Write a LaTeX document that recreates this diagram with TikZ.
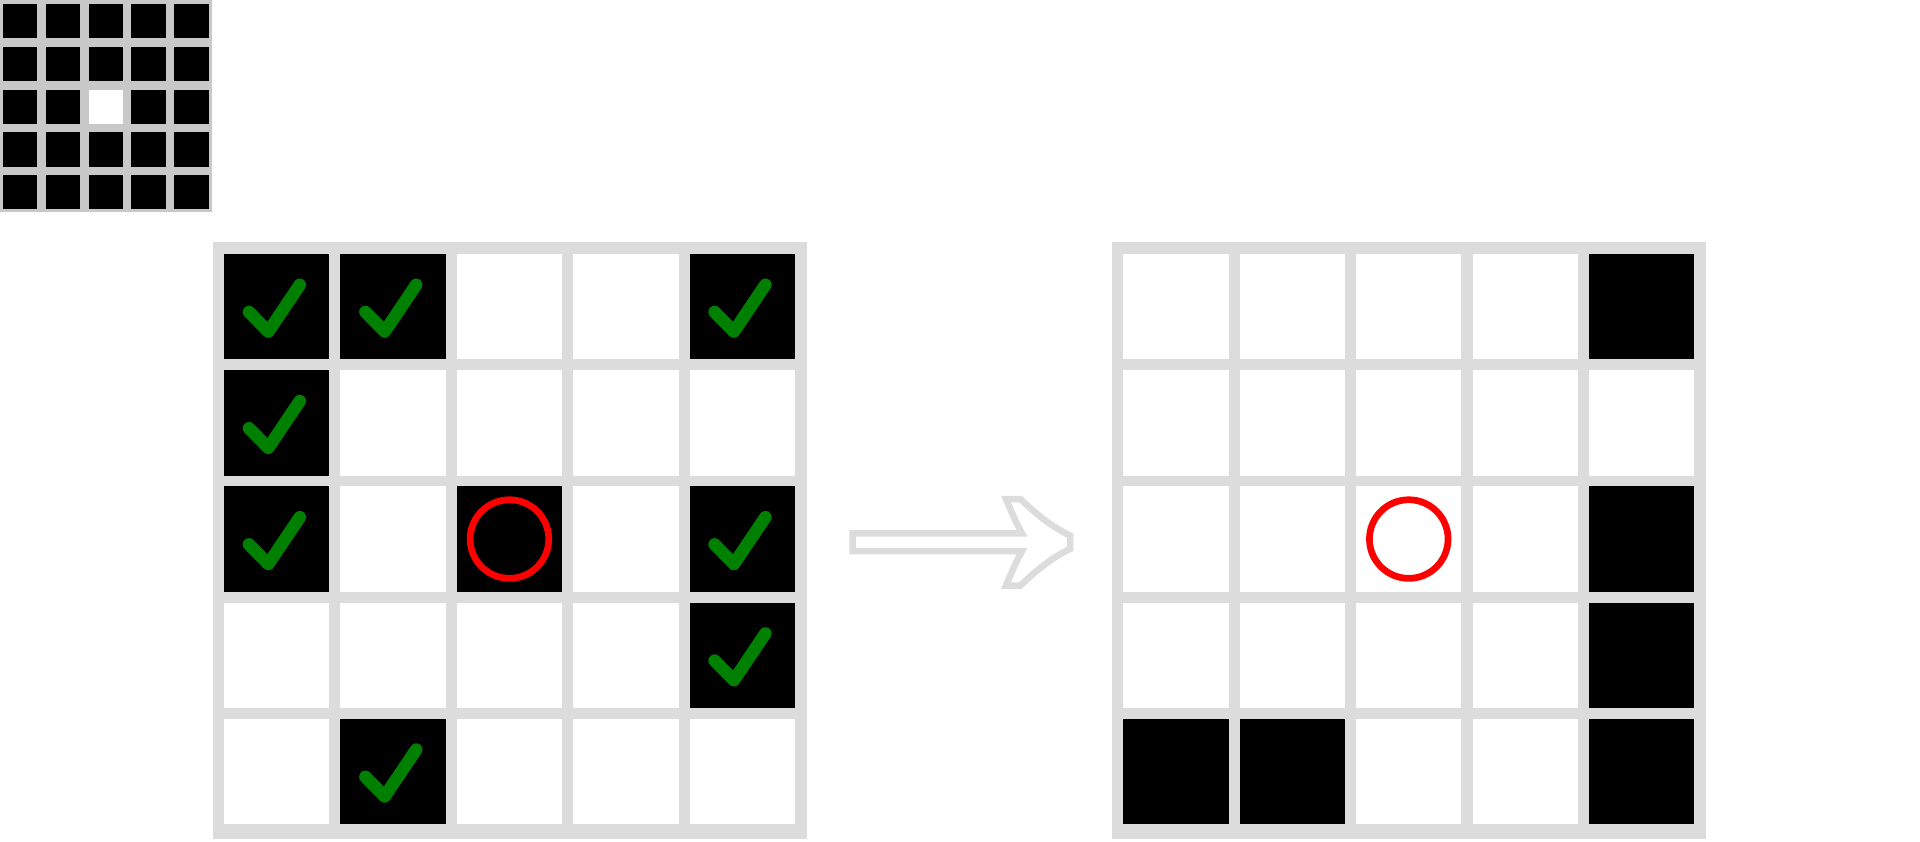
\documentclass[tikz,border=0pt]{standalone}
\begin{document}
\begin{tikzpicture}[x=1pt,y=-1pt]
\definecolor{gridgray}{RGB}{220,220,220}
\definecolor{smallgray}{RGB}{200,200,200}
\definecolor{checkgreen}{RGB}{0,128,0}
\definecolor{ringred}{RGB}{255,0,0}
\tikzset{
  cellblack/.style={fill=black},
  cellwhite/.style={fill=white},
  checkmark/.style={draw=checkgreen, line width=12.5pt, line cap=round, line join=round},
  ring/.style={draw=ringred, line width=6.7pt},
  arrowshape/.style={draw=gridgray, fill=white, line width=6.5pt, line join=miter},
  gridframe/.style={fill=gridgray},
  smallframe/.style={fill=smallgray}
}
\useasboundingbox (0,0) rectangle (1920,842);
\fill[white] (0,0) rectangle (1920,842);

% small grid
\fill[smallframe] (0,0) rectangle (212.3,212.3);
\foreach \r in {0,...,4} {
  \foreach \c in {0,...,4} {
    \fill[cellblack] ({2.7+42.9*\c},{4+42.8*\r}) rectangle +(34.2,34.2);
  }
}
\fill[cellwhite] ({2.7+42.9*2},{4+42.8*2}) rectangle +(34.2,34.2);

% left grid
\fill[gridframe] (212.7,242) rectangle (806.7,838.7);
\foreach \r in {0,...,4} {
  \foreach \c in {0,...,4} {
    \fill[cellwhite] ({224+116.4*\c},{254+116.2*\r}) rectangle +(105.3,105.3);
  }
}
\foreach \r/\c in {0/0,0/1,0/4,1/0,2/0,2/2,2/4,3/4,4/1} {
  \fill[cellblack] ({224+116.4*\c},{254+116.2*\r}) rectangle +(105.3,105.3);
}
\foreach \r/\c in {0/0,0/1,0/4,1/0,2/0,2/4,3/4,4/1} {
  \draw[checkmark] ({224+116.4*\c+25},{254+116.2*\r+58}) -- ++(19.3,19.6) -- ++(31.5,-46.8);
}
\draw[ring] ({224+116.4*2+52.65},{254+116.2*2+52.65}) circle[radius=39.3];

% arrow
\draw[arrowshape] (852.6,533.3) -- (1022,533.3)
  .. controls (1015,520) .. (1006,499) -- (1020.5,499)
  .. controls (1036,514) and (1052,527) .. (1070,535.5) -- (1070,549)
  .. controls (1052,557.5) and (1036,570.5) .. (1020.5,585.5) -- (1006,585.5)
  .. controls (1015,564.5) .. (1022,551.2) -- (852.6,551.2) -- cycle;

% right grid
\begin{scope}[xshift=899.3pt]
\fill[gridframe] (212.7,242) rectangle (806.7,838.7);
\foreach \r in {0,...,4} {
  \foreach \c in {0,...,4} {
    \fill[cellwhite] ({224+116.4*\c},{254+116.2*\r}) rectangle +(105.3,105.3);
  }
}
\foreach \r/\c in {0/4,2/4,3/4,4/0,4/1,4/4} {
  \fill[cellblack] ({224+116.4*\c},{254+116.2*\r}) rectangle +(105.3,105.3);
}
\draw[ring] ({224+116.4*2+52.65},{254+116.2*2+52.65}) circle[radius=39.3];
\end{scope}
\end{tikzpicture}
\end{document}
